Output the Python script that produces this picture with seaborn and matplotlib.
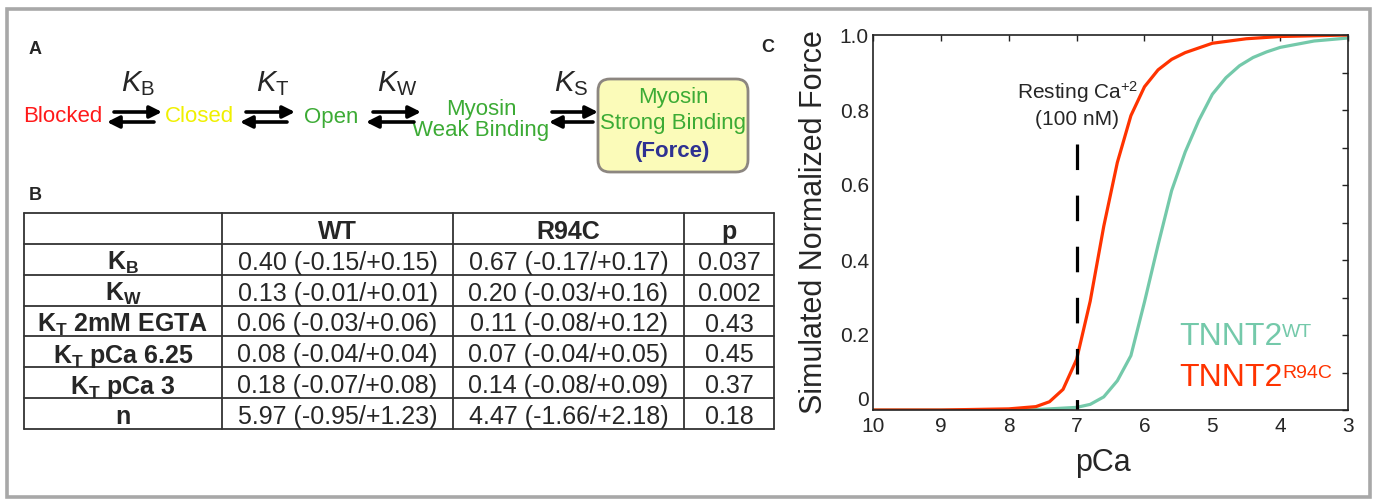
import numpy as np
import pandas as pd
import matplotlib
matplotlib.use('Agg')
import matplotlib.pyplot as plt
import seaborn as sns
from matplotlib.patches import FancyBboxPatch, Rectangle

# --- data ---
# simulated force-pCa curves
pca_wt = [10, 9, 8, 7.5, 7.0, 6.8, 6.6, 6.4, 6.2, 6.0, 5.8, 5.6, 5.4, 5.2, 5.0,
          4.8, 4.6, 4.4, 4.2, 4.0, 3.5, 3.0]
force_wt = [0, 0, 0, 0.002, 0.007, 0.015, 0.035, 0.078, 0.145, 0.288, 0.44, 0.585,
            0.688, 0.772, 0.842, 0.886, 0.918, 0.94, 0.955, 0.967, 0.984, 0.992]
pca_r94c = [10, 9, 8, 7.6, 7.4, 7.2, 7.0, 6.8, 6.6, 6.4, 6.2, 6.0, 5.8, 5.6, 5.4,
            5.0, 4.5, 4.0, 3.0]
force_r94c = [0, 0, 0.003, 0.009, 0.022, 0.055, 0.135, 0.29, 0.49, 0.66, 0.785,
              0.862, 0.907, 0.935, 0.953, 0.978, 0.99, 0.996, 1.0]
resting_pca = 7.0
resting_top = 0.71

x_ticks = [10, 9, 8, 7, 6, 5, 4, 3]
y_ticks = [0, 0.1, 0.2, 0.3, 0.4, 0.5, 0.6, 0.7, 0.8, 0.9, 1.0]
y_ticklabels = ['0', '', '0.2', '', '0.4', '', '0.6', '', '0.8', '', '1.0']

# kinetic scheme
states = ['Blocked', 'Closed', 'Open', 'Myosin\nWeak Binding']
state_colors = ['#ff1a1a', '#f0f000', '#3cab35', '#3cab35']
k_names = ['B', 'T', 'W', 'S']

# fitted parameter table
table_header = ['', 'WT', 'R94C', 'p']
row_labels = [r'$\mathbf{K_B}$', r'$\mathbf{K_W}$', r'$\mathbf{K_T}$ 2mM EGTA',
              r'$\mathbf{K_T}$ pCa 6.25', r'$\mathbf{K_T}$ pCa 3', 'n']
wt_vals = ['0.40 (-0.15/+0.15)', '0.13 (-0.01/+0.01)', '0.06 (-0.03/+0.06)',
           '0.08 (-0.04/+0.04)', '0.18 (-0.07/+0.08)', '5.97 (-0.95/+1.23)']
r94c_vals = ['0.67 (-0.17/+0.17)', '0.20 (-0.03/+0.16)', '0.11 (-0.08/+0.12)',
             '0.07 (-0.04/+0.05)', '0.14 (-0.08/+0.09)', '4.47 (-1.66/+2.18)']
p_vals = ['0.037', '0.002', '0.43', '0.45', '0.37', '0.18']

RED = '#ff3300'
GREEN = '#74c9aa'

sns.set_theme(style='white')
plt.rcParams['font.family'] = ['Liberation Sans', 'DejaVu Sans']
plt.rcParams['mathtext.fontset'] = 'custom'
plt.rcParams['mathtext.rm'] = 'Liberation Sans'
plt.rcParams['mathtext.it'] = 'Liberation Sans:italic'
plt.rcParams['mathtext.bf'] = 'Liberation Sans:bold'

fig = plt.figure(figsize=(13.77, 5.0), dpi=100)

# background axes in pixel units for panels A and B
bg = fig.add_axes([0, 0, 1, 1])
bg.set_xlim(0, 1377)
bg.set_ylim(500, 0)
bg.axis('off')

bg.add_patch(Rectangle((7, 9), 1363, 488, fill=False, edgecolor='#a8a8a8', lw=2.6))

for lbl, x, y in [('A', 35, 49), ('B', 35, 196), ('C', 768, 48)]:
    bg.text(x, y, lbl, fontsize=13, fontweight='bold', ha='center', va='center')

# --- panel A: scheme ---
state_x = [63, 199, 331, 481]
for s, c, x in zip(states, state_colors, state_x):
    bg.text(x, 117 if '\n' not in s else 120, s, color=c, fontsize=16,
            ha='center', va='center', multialignment='center', linespacing=1.05)

k_x = [121, 256, 377, 554]
arrow_x = [(114, 162, 107, 154), (246, 295, 240, 287), (373, 421, 366, 414), (552, 598, 549, 593)]
for k, kx, (a0, a1, b0, b1) in zip(k_names, k_x, arrow_x):
    bg.text(kx, 91, r'$\mathit{K}_{\mathregular{%s}}$' % k, fontsize=21, ha='left', va='baseline')
    bg.annotate('', xy=(a1, 112), xytext=(a0, 112),
                arrowprops=dict(arrowstyle='-|>', lw=2.6, color='black', mutation_scale=18,
                                shrinkA=0, shrinkB=0))
    bg.annotate('', xy=(b0, 122), xytext=(b1, 122),
                arrowprops=dict(arrowstyle='-|>', lw=2.6, color='black', mutation_scale=18,
                                shrinkA=0, shrinkB=0))

bg.add_patch(FancyBboxPatch((598, 79), 150, 93, boxstyle='round,pad=0,rounding_size=12',
                            facecolor='#fbfbb9', edgecolor='#8c8680', lw=2.0))
bg.text(673, 98, 'Myosin', color='#3cab35', fontsize=16, ha='center', va='center')
bg.text(673, 124, 'Strong Binding', color='#3cab35', fontsize=16, ha='center', va='center')
bg.text(673, 152, '(Force)', color='#2e3192', fontsize=16, fontweight='bold',
        ha='center', va='center')

# --- panel B: table ---
col_edges = [24, 222, 453, 684, 774]
row_edges = np.linspace(213, 429, 8)
for yy in row_edges:
    bg.plot([col_edges[0], col_edges[-1]], [yy, yy], color='#333333', lw=1.3)
for xx in col_edges:
    bg.plot([xx, xx], [row_edges[0], row_edges[-1]], color='#333333', lw=1.3)

col_cx = [(col_edges[i] + col_edges[i + 1]) / 2 for i in range(4)]
row_cy = [(row_edges[i] + row_edges[i + 1]) / 2 for i in range(7)]
for j, h in enumerate(table_header):
    bg.text(col_cx[j], row_cy[0] + 1, h, fontsize=18, fontweight='bold',
            ha='center', va='center_baseline')
for i in range(6):
    cells = [row_labels[i], wt_vals[i], r94c_vals[i], p_vals[i]]
    for j, txt in enumerate(cells):
        bg.text(col_cx[j], row_cy[i + 1] + 1, txt, fontsize=18,
                fontweight='bold' if j == 0 else 'normal',
                ha='center', va='center_baseline')

# --- panel C: force-pCa curves ---
ax = fig.add_axes([0.634, 0.18, 0.345, 0.75])
df = pd.concat([
    pd.DataFrame({'pCa': pca_wt, 'force': force_wt, 'genotype': 'WT'}),
    pd.DataFrame({'pCa': pca_r94c, 'force': force_r94c, 'genotype': 'R94C'}),
])
sns.lineplot(data=df, x='pCa', y='force', hue='genotype', hue_order=['WT', 'R94C'],
             palette={'WT': GREEN, 'R94C': RED}, lw=2.3, legend=False,
             errorbar=None, ax=ax)
ax.plot([resting_pca, resting_pca], [resting_top, 0], color='black', lw=2.3,
        linestyle=(0, (8, 8)))

ax.set_xlim(10, 3)
ax.set_ylim(0, 1.0)
ax.set_xticks(x_ticks)
ax.set_xticklabels([str(t) for t in x_ticks], fontsize=15)
ax.set_yticks(y_ticks)
ax.set_yticklabels(y_ticklabels, fontsize=15)
# the "0" sits a bit above the corner, clear of the "10"
ax.get_yticklabels()[0].set_va('bottom')
ax.tick_params(direction='in', top=True, right=True, length=4, width=1.0,
               color='#222222', pad=3)
ax.tick_params(axis='x', pad=5)
for sp in ax.spines.values():
    sp.set_color('#222222')
    sp.set_linewidth(1.2)

ax.set_xlabel('pCa', fontsize=22)
ax.set_ylabel('Simulated Normalized Force', fontsize=22)
ax.yaxis.set_label_coords(-0.093, 0.5)
ax.xaxis.set_label_coords(0.485, -0.1)

ax.text(0.43, 0.83, 'Resting Ca$^{+2}$', transform=ax.transAxes, fontsize=15,
        ha='center', va='baseline')
ax.text(0.43, 0.76, '(100 nM)', transform=ax.transAxes, fontsize=15,
        ha='center', va='baseline')

t_wt = ax.text(0.644, 0.173, 'TNNT2', transform=ax.transAxes, fontsize=23,
               color=GREEN, ha='left', va='baseline')
ax.annotate('WT', xy=(1.0, 0.95), xycoords=t_wt, fontsize=14, color=GREEN,
            ha='left', va='top')
t_mut = ax.text(0.644, 0.064, 'TNNT2', transform=ax.transAxes, fontsize=23,
                color=RED, ha='left', va='baseline')
ax.annotate('R94C', xy=(1.0, 0.95), xycoords=t_mut, fontsize=14, color=RED,
            ha='left', va='top')

fig.savefig('out.png', dpi=100)
